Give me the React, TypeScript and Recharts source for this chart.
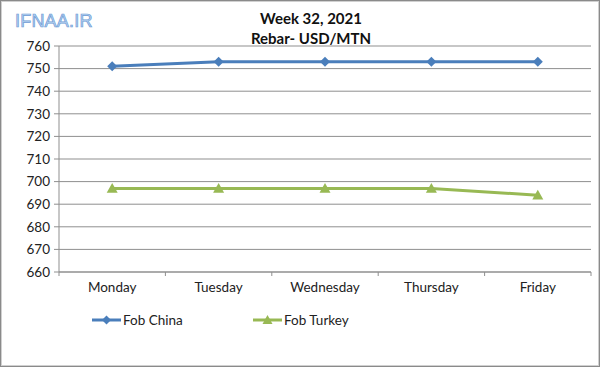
import React from 'react';
import { LineChart, Line, XAxis, YAxis, CartesianGrid, Legend } from 'recharts';

const days = ['Monday', 'Tuesday', 'Wednesday', 'Thursday', 'Friday'];
const fobChina = [751, 753, 753, 753, 753];
const fobTurkey = [697, 697, 697, 697, 694];
const yTicks = [660, 670, 680, 690, 700, 710, 720, 730, 740, 750, 760];

const BLUE = '#4a7ebb';
const GREEN = '#98b954';
const GRID = '#8f8f8f';
const FONT = 'Lato, "Open Sans", sans-serif';

const data = days.map((day, i) => ({
  day,
  china: fobChina[i],
  turkey: fobTurkey[i],
}));

const Diamond = ({ cx, cy, color, r = 5 }: { cx?: number; cy?: number; color: string; r?: number }) => {
  if (cx == null || cy == null) return null;
  return (
    <path
      d={`M${cx},${cy - r} L${cx + r},${cy} L${cx},${cy + r} L${cx - r},${cy} Z`}
      fill={color}
    />
  );
};

const Triangle = ({ cx, cy, color, r = 5.5 }: { cx?: number; cy?: number; color: string; r?: number }) => {
  if (cx == null || cy == null) return null;
  return (
    <path
      d={`M${cx},${cy - r} L${cx + r},${cy + r * 0.8} L${cx - r},${cy + r * 0.8} Z`}
      fill={color}
    />
  );
};

// Excel-style category ticks: marks sit between categories, labels at centres
const DayTick = (props: any) => {
  const { x, y, payload, index } = props;
  const half = payload?.offset || 53;
  return (
    <g>
      <line x1={x - half} y1={y - 8} x2={x - half} y2={y - 4} stroke={GRID} />
      {index === days.length - 1 && (
        <line x1={x + half} y1={y - 8} x2={x + half} y2={y - 4} stroke={GRID} />
      )}
      <text x={x} y={y + 12} textAnchor="middle" fill="#222" fontSize={13.5} fontFamily={FONT}>
        {payload.value}
      </text>
    </g>
  );
};

const legendItems = [
  { name: 'Fob China', color: BLUE, shape: 'diamond' },
  { name: 'Fob Turkey', color: GREEN, shape: 'triangle' },
];

const CustomLegend = () => (
  <div style={{ display: 'flex', paddingLeft: 91, height: 20, alignItems: 'center' }}>
    {legendItems.map((item) => (
      <div key={item.name} style={{ display: 'flex', alignItems: 'center', width: 161 }}>
        <svg width={31} height={14}>
          <line x1={1} y1={7} x2={30} y2={7} stroke={item.color} strokeWidth={3} />
          {item.shape === 'diamond' ? (
            <Diamond cx={15.5} cy={7} color={item.color} r={4.5} />
          ) : (
            <Triangle cx={15.5} cy={7} color={item.color} r={5} />
          )}
        </svg>
        <span style={{ fontFamily: FONT, fontSize: 13.5, color: '#222', marginLeft: 1 }}>{item.name}</span>
      </div>
    ))}
  </div>
);

const App: React.FC = () => {
  return (
    <div
      style={{
        position: 'fixed',
        left: 0,
        top: 0,
        width: 600,
        height: 367,
        boxSizing: 'border-box',
        border: '1px solid #8a8a8a',
        boxShadow: 'inset 0 0 0 1px #d0d0d0',
        background: '#fff',
        overflow: 'hidden',
      }}
    >
      <div
        style={{
          position: 'absolute',
          left: 14,
          top: 10,
          fontFamily: '"Liberation Sans", Arial, sans-serif',
          fontSize: 18,
          color: '#b9d3f0',
          WebkitTextStroke: '0.7px #6c9bd6',
          letterSpacing: 0.2,
        }}
      >
        IFNAA.IR
      </div>
      <div
        style={{
          position: 'absolute',
          left: 0,
          width: 620,
          top: 7,
          textAlign: 'center',
          fontFamily: FONT,
          fontWeight: 700,
          fontSize: 15,
          lineHeight: '20px',
          color: '#111',
        }}
      >
        <div>Week 32, 2021</div>
        <div>Rebar- USD/MTN</div>
      </div>
      <div style={{ position: 'absolute', left: -1, top: -1 }}>
        <LineChart
          width={600}
          height={367}
          data={data}
          margin={{ top: 46, right: 9, left: 0, bottom: 37 }}
        >
          <CartesianGrid vertical={false} stroke={GRID} strokeWidth={1} />
          <XAxis
            dataKey="day"
            scale="band"
            height={38}
            axisLine={{ stroke: GRID }}
            tickLine={false}
            tick={<DayTick />}
            interval={0}
          />
          <YAxis
            width={59}
            domain={[660, 760]}
            ticks={yTicks}
            interval={0}
            axisLine={{ stroke: GRID }}
            tickLine={{ stroke: GRID }}
            tickSize={5}
            tickMargin={4}
            tick={{ fill: '#222', fontSize: 13.5, fontFamily: FONT }}
          />
          <Legend verticalAlign="bottom" align="left" content={<CustomLegend />} />
          <Line
            type="linear"
            dataKey="china"
            name="Fob China"
            stroke={BLUE}
            strokeWidth={3}
            dot={(p: any) => <Diamond key={`c${p.index}`} cx={p.cx} cy={p.cy} color={BLUE} />}
            activeDot={false}
            isAnimationActive={false}
          />
          <Line
            type="linear"
            dataKey="turkey"
            name="Fob Turkey"
            stroke={GREEN}
            strokeWidth={3}
            dot={(p: any) => <Triangle key={`t${p.index}`} cx={p.cx} cy={p.cy} color={GREEN} />}
            activeDot={false}
            isAnimationActive={false}
          />
        </LineChart>
      </div>
    </div>
  );
};

export default App;
